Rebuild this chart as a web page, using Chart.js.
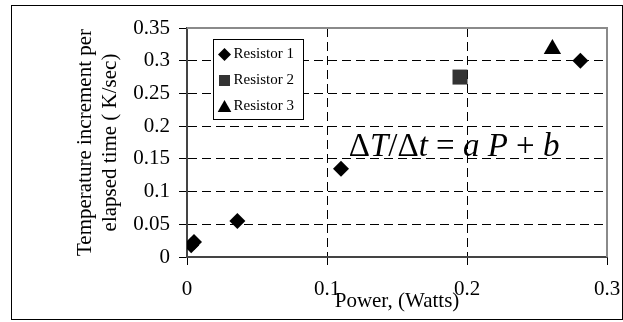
<!DOCTYPE html>
<html>
<head>
<meta charset="utf-8">
<script src="https://cdn.jsdelivr.net/npm/chart.js@4/dist/chart.umd.min.js"></script>
<style>
html,body{margin:0;padding:0;background:#fff;}
canvas{display:block;}
</style>
</head>
<body>
<canvas id="c" width="623" height="322"></canvas>
<script>
// ---- data ----
const seriesNames = ['Resistor 1', 'Resistor 2', 'Resistor 3'];
const r1Power = [0.003, 0.005, 0.036, 0.11, 0.281];
const r1Rate  = [0.018, 0.023, 0.055, 0.135, 0.300];
const r2Power = [0.195];
const r2Rate  = [0.275];
const r3Power = [0.261];
const r3Rate  = [0.318];
const xTickValues = [0, 0.1, 0.2, 0.3];
const xTickLabels = ['0', '0.1', '0.2', '0.3'];
const yTickValues = [0, 0.05, 0.1, 0.15, 0.2, 0.25, 0.3, 0.35];
const yTickLabels = ['0', '0.05', '0.1', '0.15', '0.2', '0.25', '0.3', '0.35'];
const xTitle = 'Power, (Watts)';
const yTitle = ['Temperature increment per', 'elapsed time ( K/sec)'];

const toPts = (xs, ys) => xs.map((x, i) => ({x: x, y: ys[i]}));
const SERIF = "'Liberation Serif', 'Times New Roman', serif";

const transparentAtEnds = (ctx) => {
  const s = ctx.scale;
  if (!ctx.tick) return '#000';
  const v = ctx.tick.value;
  return (Math.abs(v - s.min) < 1e-9 || Math.abs(v - s.max) < 1e-9) ? 'rgba(0,0,0,0)' : '#000';
};

const framePlugin = {
  id: 'frame',
  beforeDatasetsDraw(chart) {
    const {ctx, chartArea: a} = chart;
    ctx.save();
    ctx.strokeStyle = '#8a8a8a';
    ctx.lineWidth = 2;
    ctx.beginPath();
    ctx.moveTo(a.left, a.top);
    ctx.lineTo(a.right, a.top);
    ctx.lineTo(a.right, a.bottom);
    ctx.stroke();
    ctx.restore();
  },
  afterDraw(chart) {
    const {ctx} = chart;
    ctx.save();
    ctx.strokeStyle = '#000';
    ctx.lineWidth = 1;
    ctx.strokeRect(11.5, 5.5, 611, 314);
    ctx.restore();
  }
};

function drawMarker(ctx, style, x, y, r) {
  ctx.beginPath();
  if (style === 'rectRot') {
    ctx.moveTo(x, y - r); ctx.lineTo(x + r, y); ctx.lineTo(x, y + r); ctx.lineTo(x - r, y);
  } else if (style === 'rect') {
    ctx.rect(x - r, y - r, 2 * r, 2 * r);
  } else if (style === 'triangle') {
    ctx.moveTo(x, y - r); ctx.lineTo(x + r * 1.05, y + r * 0.85); ctx.lineTo(x - r * 1.05, y + r * 0.85);
  }
  ctx.closePath();
  ctx.fill();
}

const legendPlugin = {
  id: 'boxLegend',
  afterDatasetsDraw(chart) {
    const {ctx, chartArea: a} = chart;
    const bx = a.left + 26.5, by = a.top + 11.5, bw = 90, bh = 80;
    ctx.save();
    ctx.fillStyle = '#fff';
    ctx.fillRect(bx, by, bw, bh);
    ctx.strokeStyle = '#000';
    ctx.lineWidth = 1;
    ctx.strokeRect(bx, by, bw, bh);
    const sizes = [6.5, 5.5, 6.5];
    chart.data.datasets.forEach((ds, i) => {
      const cy = by + 15 + i * 26;
      ctx.fillStyle = ds.backgroundColor;
      drawMarker(ctx, ds.pointStyle, bx + 11, cy, sizes[i]);
      ctx.fillStyle = '#000';
      ctx.font = '15px ' + SERIF;
      ctx.textBaseline = 'middle';
      ctx.textAlign = 'left';
      ctx.fillText(ds.label, bx + 20, cy);
    });
    ctx.restore();
  }
};

const equationPlugin = {
  id: 'equation',
  afterDatasetsDraw(chart) {
    const {ctx} = chart;
    const xs = chart.scales.x, ys = chart.scales.y;
    let x = xs.getPixelForValue(0.1155);
    const y = ys.getPixelForValue(0.155);
    const parts = [['\u0394', false], ['T', true], ['/', false], ['\u0394', false], ['t', true],
                   [' = ', false], ['a', true], [' ', false], ['P', true], [' + ', false], ['b', true]];
    ctx.save();
    ctx.fillStyle = '#000';
    ctx.textBaseline = 'alphabetic';
    ctx.textAlign = 'left';
    parts.forEach(([t, it]) => {
      ctx.font = (it ? 'italic ' : '') + '33px ' + SERIF;
      ctx.fillText(t, x, y);
      x += ctx.measureText(t).width;
    });
    ctx.restore();
  }
};

new Chart(document.getElementById('c'), {
  type: 'scatter',
  data: {
    datasets: [
      {label: seriesNames[0], data: toPts(r1Power, r1Rate), pointStyle: 'rectRot', pointRadius: 8,
       backgroundColor: '#000', borderColor: '#000', borderWidth: 0},
      {label: seriesNames[1], data: toPts(r2Power, r2Rate), pointStyle: 'rect', pointRadius: 10.6,
       backgroundColor: '#333', borderColor: '#333', borderWidth: 0},
      {label: seriesNames[2], data: toPts(r3Power, r3Rate), pointStyle: 'triangle', pointRadius: 10,
       backgroundColor: '#000', borderColor: '#000', borderWidth: 0}
    ]
  },
  options: {
    responsive: false,
    animation: false,
    devicePixelRatio: 1,
    layout: {padding: {top: 28, right: 16, left: 0, bottom: 0}},
    plugins: {legend: {display: false}, tooltip: {enabled: false}},
    scales: {
      x: {
        type: 'linear', min: 0, max: 0.3,
        afterBuildTicks: (s) => { s.ticks = xTickValues.map(v => ({value: v})); },
        afterFit: (s) => { s.height = 65; s.paddingLeft = 0; s.paddingRight = 0; },
        ticks: {color: '#000', font: {family: SERIF, size: 21}, padding: 12, maxRotation: 0,
                callback: (v) => { const i = xTickValues.findIndex(t => Math.abs(t - v) < 1e-9); return i >= 0 ? xTickLabels[i] : ''; }},
        grid: {color: transparentAtEnds, tickColor: '#000', lineWidth: 1, tickLength: 8},
        border: {color: '#444', width: 2, dash: [9, 5]},
        title: {display: true, text: xTitle, color: '#000', font: {family: SERIF, size: 21},
                padding: {top: 0, bottom: 8}}
      },
      y: {
        type: 'linear', min: 0, max: 0.35,
        afterBuildTicks: (s) => { s.ticks = yTickValues.map(v => ({value: v})); },
        afterFit: (s) => { s.width = 187; s.paddingTop = 0; s.paddingBottom = 0; },
        ticks: {color: '#000', font: {family: SERIF, size: 21}, padding: 9,
                callback: (v) => { const i = yTickValues.findIndex(t => Math.abs(t - v) < 1e-9); return i >= 0 ? yTickLabels[i] : ''; }},
        grid: {color: transparentAtEnds, tickColor: '#000', lineWidth: 1, tickLength: 8},
        border: {color: '#444', width: 2, dash: [9, 5]},
        title: {display: true, text: yTitle, color: '#000', font: {family: SERIF, size: 21},
                padding: {top: 73, bottom: 0}}
      }
    }
  },
  plugins: [framePlugin, legendPlugin, equationPlugin]
});
</script>
</body>
</html>
